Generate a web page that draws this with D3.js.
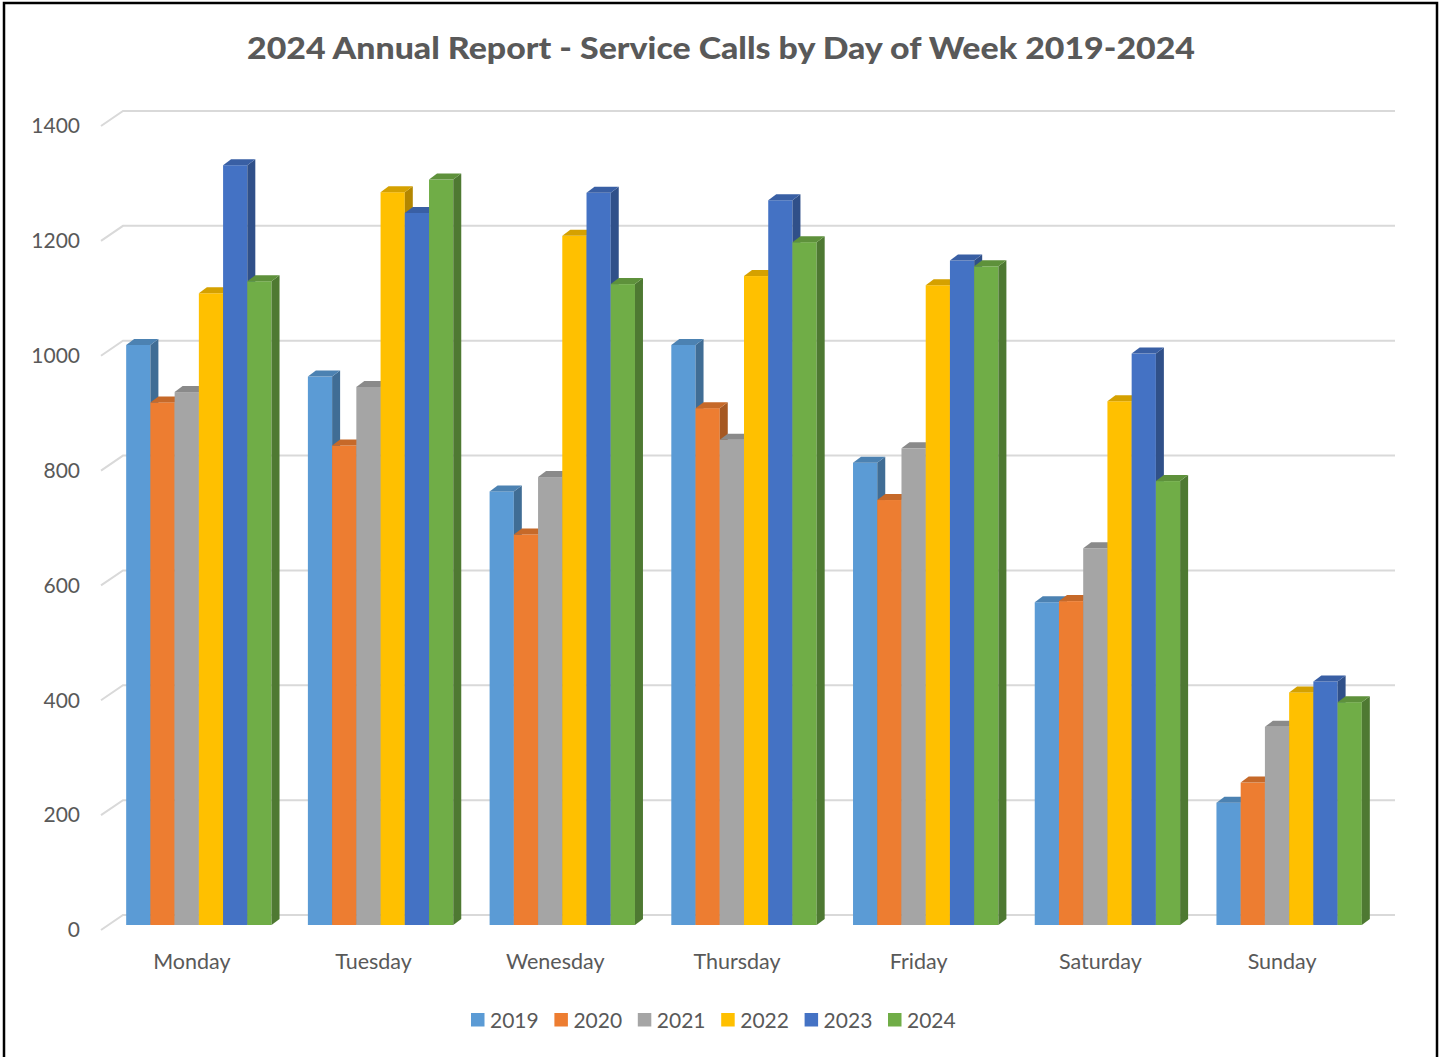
<!DOCTYPE html>
<html>
<head>
<meta charset="utf-8">
<script src="https://cdn.jsdelivr.net/npm/d3@7"></script>
<style>
  body { margin: 0; background: #fff; }
  svg { display: block; font-family: Lato, "Open Sans", sans-serif; }
</style>
</head>
<body>
<svg></svg>
<script>
const width = 1443;
const height = 1057;
const svg = d3.select("svg").attr("width", width).attr("height", height);

// data
const days = ["Monday", "Tuesday", "Wenesday", "Thursday", "Friday", "Saturday", "Sunday"];
const years = ["2019", "2020", "2021", "2022", "2023", "2024"];
const calls2019 = [1010, 955, 755, 1010, 805, 562, 213];
const calls2020 = [910, 835, 680, 900, 740, 564, 248];
const calls2021 = [928, 937, 780, 845, 830, 656, 345];
const calls2022 = [1100, 1276, 1200, 1130, 1114, 912, 405];
const calls2023 = [1323, 1240, 1275, 1262, 1157, 995, 424];
const calls2024 = [1121, 1298, 1116, 1189, 1147, 773, 388];
const yTicks = [0, 200, 400, 600, 800, 1000, 1200, 1400];
const colors = ["#5B9BD5", "#ED7D31", "#A5A5A5", "#FFC000", "#4472C4", "#70AD47"];

const series = [calls2019, calls2020, calls2021, calls2022, calls2023, calls2024];

// bar plane scales
const x = d3.scaleBand().domain(days).range([108, 1380]).paddingInner(0.2).paddingOuter(0.1);
const xYear = d3.scaleBand().domain(years).range([0, x.bandwidth()]);
const y = d3.scaleLinear().domain([0, 1400]).range([925, 121]);

// depth offsets (floor front / back relative to bar plane, bar depth)
const front = { dx: -7, dy: 5 };
const back = { dx: 15, dy: -10 };
const depth = { dx: 8, dy: -6 };

const textColor = "#595959";

// frame
svg.append("rect")
  .attr("x", 4)
  .attr("y", 3)
  .attr("width", 1433)
  .attr("height", 1060)
  .attr("fill", "none")
  .attr("stroke", "#000")
  .attr("stroke-width", 2.5);

// title
svg.append("text")
  .attr("x", 721)
  .attr("y", 59)
  .attr("text-anchor", "middle")
  .attr("font-size", 30)
  .attr("font-weight", "900")
  .attr("textLength", 948)
  .attr("lengthAdjust", "spacingAndGlyphs")
  .attr("fill", textColor)
  .text("2024 Annual Report - Service Calls by Day of Week 2019-2024");

// gridlines on the back wall with the diagonal on the side wall
const grid = svg.append("g");
yTicks.forEach(t => {
  const x0 = x.range()[0];
  const x1 = x.range()[1];
  const yy = y(t);
  grid.append("path")
    .attr("d", `M${x0 + front.dx},${yy + front.dy}L${x0 + back.dx},${yy + back.dy}L${x1 + back.dx},${yy + back.dy}`)
    .attr("fill", "none")
    .attr("stroke", "#D9D9D9")
    .attr("stroke-width", 2);

  svg.append("text")
    .attr("x", 80)
    .attr("y", yy + front.dy)
    .attr("dy", "0.35em")
    .attr("text-anchor", "end")
    .attr("font-size", 21)
    .attr("fill", textColor)
    .text(t);
});

// bars
const barData = [];
days.forEach((day, i) => {
  years.forEach((yr, j) => {
    barData.push({ day, yr, value: series[j][i], color: colors[j] });
  });
});

const bars = svg.append("g").selectAll("g")
  .data(barData)
  .join("g");

function poly(pts) {
  return "M" + pts.map(p => p.join(",")).join("L") + "Z";
}

bars.each(function(d) {
  const g = d3.select(this);
  const bx = x(d.day) + xYear(d.yr);
  const bw = xYear.bandwidth();
  const top = y(d.value);
  const base = y(0);
  const c = d3.rgb(d.color);

  g.append("rect")
    .attr("x", bx)
    .attr("y", top)
    .attr("width", bw)
    .attr("height", base - top)
    .attr("fill", d.color);

  g.append("path")
    .attr("d", poly([[bx + bw, top], [bx + bw + depth.dx, top + depth.dy], [bx + bw + depth.dx, base + depth.dy], [bx + bw, base]]))
    .attr("fill", c.darker(1.0));

  g.append("path")
    .attr("d", poly([[bx, top], [bx + bw, top], [bx + bw + depth.dx, top + depth.dy], [bx + depth.dx, top + depth.dy]]))
    .attr("fill", c.darker(0.5));
});

// category labels
svg.append("g").selectAll("text")
  .data(days)
  .join("text")
  .attr("x", d => x(d) + x.bandwidth() / 2 + front.dx)
  .attr("y", 969)
  .attr("text-anchor", "middle")
  .attr("font-size", 21.5)
  .attr("fill", textColor)
  .text(d => d);

// legend
const legend = svg.append("g").selectAll("g")
  .data(years)
  .join("g")
  .attr("transform", (d, i) => `translate(${471 + i * 83.4}, 1013)`);

legend.append("rect")
  .attr("width", 13.5)
  .attr("height", 13.5)
  .attr("fill", (d, i) => colors[i]);

legend.append("text")
  .attr("x", 19)
  .attr("y", 14.5)
  .attr("font-size", 21)
  .attr("fill", textColor)
  .text(d => d);
</script>
</body>
</html>
